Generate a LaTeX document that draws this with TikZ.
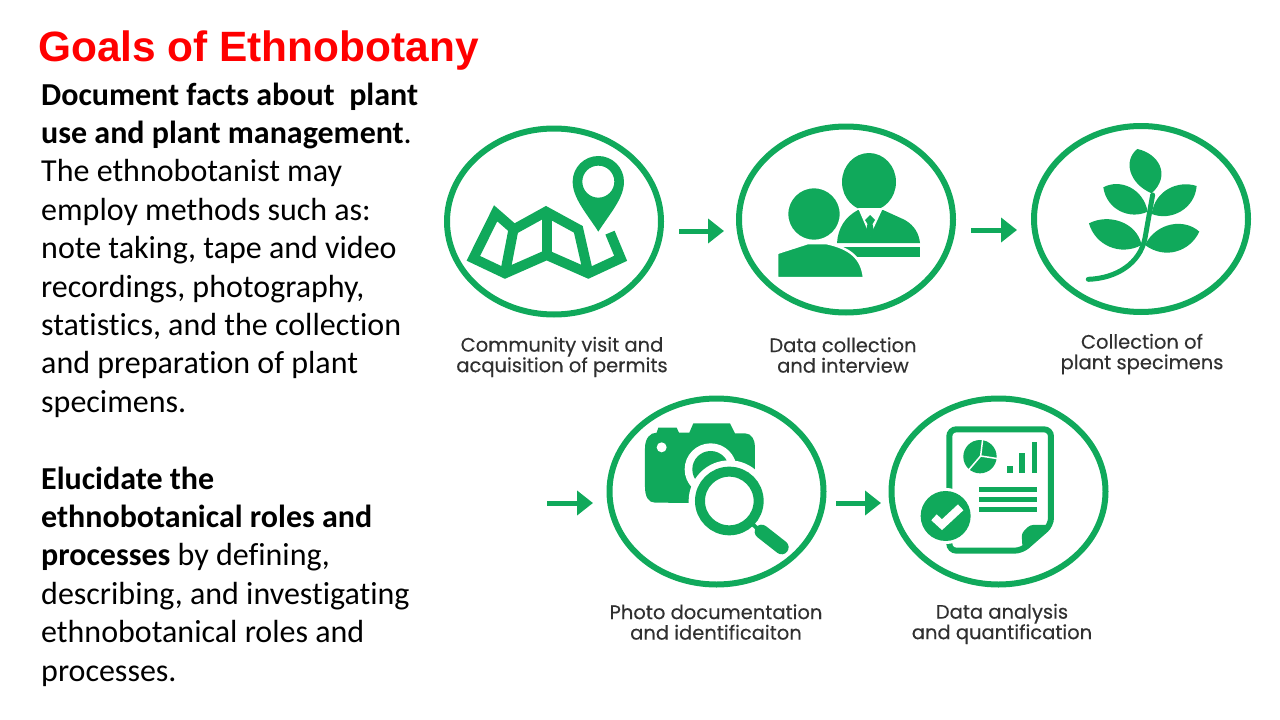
\documentclass[tikz,border=0pt]{standalone}
\usepackage{fontspec}
\setmainfont[Ligatures=NoCommon]{Carlito}
\newfontfamily\titlefont{Liberation Sans}
\newfontfamily\labelfont[FakeBold=0.3]{Poppins}
\usetikzlibrary{arrows.meta,positioning,shapes.geometric}
\definecolor{leafgreen}{HTML}{10A95B}
\definecolor{labelgray}{HTML}{303030}

\begin{document}
\begin{tikzpicture}[x=1pt,y=-1pt,
    step_circle/.style={ellipse,draw=leafgreen,line width=6pt,minimum width=214pt,minimum height=186pt,inner sep=0pt,outer sep=0pt},
    step_label/.style={align=center,text=labelgray,font=\labelfont\fontsize{19.5}{20.5}\selectfont},
    step_arrow/.style={draw=leafgreen,line width=5pt,-{Triangle[length=16pt,width=24pt]}},
    zoom_a/.style={shift={(430,110)},x=0.3333pt,y=-0.3333pt},
    zoom_b/.style={shift={(850,110)},x=0.3333pt,y=-0.3333pt},
    zoom_c/.style={shift={(530,390)},x=0.3333pt,y=-0.3333pt},
    zoom_d/.style={shift={(830,390)},x=0.3333pt,y=-0.3333pt}]
    \useasboundingbox (0,0) rectangle (1280,720);

    \node[anchor=base west,inner sep=0pt,text=red,font=\titlefont\bfseries\fontsize{42.4}{50}\selectfont] (goals_title) at (38,61) {Goals of Ethnobotany};
    \node[anchor=north west,inner sep=0pt,align=left,font=\fontsize{32}{38.4}\selectfont] (goals_text) at (41,82.5) {\textbf{Document facts about\ \ plant}\\\textbf{use and plant management}.\\The ethnobotanist may\\employ methods such as:\\note taking, tape and video\\recordings, photography,\\statistics, and the collection\\and preparation of plant\\specimens.\\[38.4pt]\textbf{Elucidate the}\\\textbf{ethnobotanical roles and}\\\textbf{processes} by defining,\\describing, and investigating\\ethnobotanical roles and\\processes.};

    \node[step_circle] (circle_map) at (554,221.5) {};
    \node[step_circle] (circle_people) at (846,219.5) {};
    \node[step_circle] (circle_plant) at (1141,219) {};
    \node[step_circle] (circle_photo) at (716.5,491.5) {};
    \node[step_circle] (circle_data) at (998.5,491.5) {};

    \node[step_label] (label_map) at (562,357) {Community visit and\\acquisition of permits};
    \node[step_label] (label_people) at (843,355) {Data collection\\and interview};
    \node[step_label] (label_plant) at (1142,354) {Collection of\\plant specimens};
    \node[step_label] (label_photo) at (716,622) {Photo documentation\\and identificaiton};
    \node[step_label] (label_data) at (1002,624) {Data analysis\\and quantification};

    \coordinate (photo_in) at (547,503);
    \path[step_arrow] ([xshift=18pt,yshift=-9.5pt]circle_map.east) -- ([xshift=-15pt,yshift=-11.5pt]circle_people.west);
    \path[step_arrow] ([xshift=18pt,yshift=-10.5pt]circle_people.east) -- ([xshift=-17pt,yshift=-11pt]circle_plant.west);
    \path[step_arrow] (photo_in) -- ([xshift=-16.5pt,yshift=-11.5pt]circle_photo.west);
    \path[step_arrow] ([xshift=12.5pt,yshift=-11.5pt]circle_photo.east) -- ([xshift=-10.5pt,yshift=-11.5pt]circle_data.west);

    \begin{scope}[zoom_a]
        \draw[leafgreen,line width=10pt,miter limit=10] (540,368) -- (572,445) -- (475,490) -- (350,435) -- (225,490) -- (130,445) -- (197,310) -- (252,358) -- (348,305) -- (445,358) -- (475,490);
        \draw[leafgreen,line width=10pt] (252,350) -- (225,490);
        \draw[leafgreen,line width=10pt] (350,300) -- (350,435);
        \fill[leafgreen,even odd rule] (505,365) .. controls (470,310) and (428,265) .. (428,215) arc[start angle=180,end angle=360,radius=77] .. controls (582,265) and (540,310) .. (505,365) -- cycle (505,215) circle[radius=48];
    \end{scope}

    \fill[leafgreen] (869,182) ellipse[x radius=27,y radius=29];
    \fill[leafgreen] (837,243) .. controls (838,228) and (845,217) .. (858,210) -- (883,210) -- (905,220) .. controls (915,226) and (919,234) .. (920,243) -- cycle;
    \fill[white] (858,208) -- (870,236) -- (883,208) -- cycle;
    \fill[leafgreen] (870,215) -- (875,220) -- (872.5,224) -- (875,236) -- (865,236) -- (867.5,224) -- (865,220) -- cycle;
    \fill[leafgreen] (830,247) rectangle (920,257);
    \draw[white,line width=2.5pt,fill=leafgreen] (777,278) -- (777,253) -- (808,243) -- (826,243) .. controls (850,248) and (862,258) .. (864,278) -- cycle;
    \draw[white,line width=2.5pt,fill=leafgreen] (814,214) ellipse[x radius=27,y radius=27];
    \fill[white] (775,279.5) rectangle (866,283);

    \begin{scope}[zoom_b]
        \draw[leafgreen,line width=5pt,line cap=round] (715,508) .. controls (800,505) and (870,460) .. (885,385) -- (908,255);
        \fill[leafgreen] (905,250) .. controls (835,220) and (820,150) .. (862,117) .. controls (925,130) and (965,195) .. (905,250) -- cycle;
        \fill[leafgreen] (893,305) .. controls (880,235) and (810,205) .. (760,232) .. controls (770,300) and (840,330) .. (893,305) -- cycle;
        \fill[leafgreen] (905,312) .. controls (915,240) and (985,210) .. (1040,228) .. controls (1035,295) and (965,335) .. (905,312) -- cycle;
        \fill[leafgreen] (875,405) .. controls (860,335) and (775,310) .. (717,340) .. controls (735,405) and (810,440) .. (875,405) -- cycle;
        \fill[leafgreen] (885,405) .. controls (920,335) and (1005,325) .. (1048,365) .. controls (1020,425) and (945,450) .. (885,405) -- cycle;
    \end{scope}

    \begin{scope}[zoom_c]
        \fill[leafgreen] (345,175) .. controls (345,145) and (360,128) .. (380,128) -- (385,113) -- (440,113) -- (447,128) -- (478,128) -- (490,100) -- (600,100) -- (615,130) -- (645,130) .. controls (665,130) and (675,150) .. (675,170) -- (675,340) -- (375,338) .. controls (355,338) and (345,320) .. (345,290) -- cycle;
        \fill[white] (395,172) circle[radius=15];
        \fill[white] (542,238) circle[radius=78];
        \fill[leafgreen] (542,238) circle[radius=55];
        \fill[white] (598,333) circle[radius=122];
        \draw[leafgreen,line width=10pt] (598,333) circle[radius=88];
        \draw[leafgreen,line width=4pt] (665,400) -- (700,432);
        \draw[leafgreen,line width=14pt,line cap=round] (695,425) -- (755,472);
    \end{scope}

    \begin{scope}[zoom_d]
        \draw[leafgreen,line width=6pt,rounded corners=7pt] (358,118) -- (663,118) -- (663,405) -- (575,482) -- (358,482) -- cycle;
        \fill[leafgreen,rounded corners=3pt] (663,405) -- (600,405) -- (575,430) -- (578,482) -- cycle;
        \fill[leafgreen] (450,200) circle[radius=50];
        \draw[white,line width=1.5pt] (416,240) -- (452,198) -- (458,148);
        \draw[white,line width=1.5pt] (452,198) -- (504,206);
        \fill[leafgreen] (532,228) rectangle (548,248);
        \fill[leafgreen] (567,190) rectangle (585,248);
        \fill[leafgreen] (605,155) rectangle (622,248);
        \fill[leafgreen] (448,292) rectangle (622,305);
        \fill[leafgreen] (448,321) rectangle (622,335);
        \fill[leafgreen] (448,352) rectangle (622,365);
        \fill[white] (347,378) circle[radius=84];
        \fill[leafgreen] (347,378) circle[radius=75];
        \draw[white,line width=8pt] (312,382) -- (336,404) -- (392,352);
    \end{scope}
\end{tikzpicture}
\end{document}
